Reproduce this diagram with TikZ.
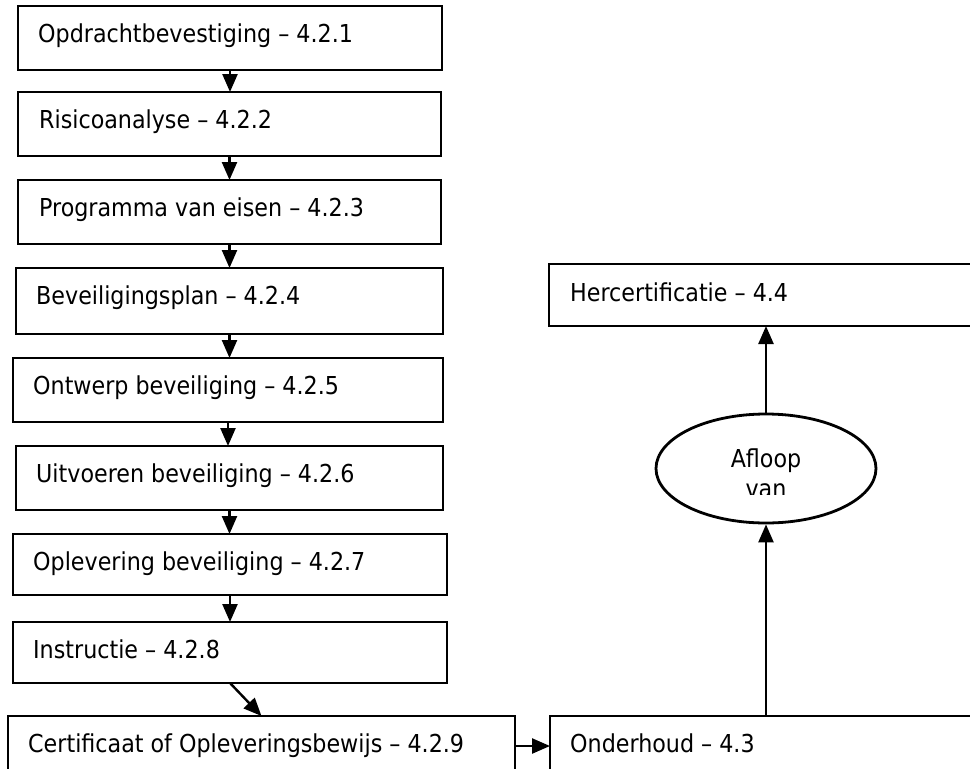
\documentclass[tikz,border=0pt]{standalone}
\usepackage{fontspec}
\setmainfont{DejaVu Sans Condensed}
\usetikzlibrary{arrows.meta,shapes.geometric}
\begin{document}
\begin{tikzpicture}[x=1pt,y=-1pt,
  box/.style={draw=black, line width=2pt, rectangle, anchor=north west, inner sep=0pt, outer sep=0pt},
  lbl/.style={anchor=base west, inner sep=0pt, font=\fontsize{24.7}{30}\selectfont},
  ctext/.style={anchor=base, inner sep=0pt, font=\fontsize{24.7}{30}\selectfont},
  arr/.style={line width=2.4pt, -{Triangle[width=15pt,length=18pt]}},
]
\clip (0,0) rectangle (970,769);
\fill[white] (0,0) rectangle (970,769);

% left column boxes
\node[box, minimum width=424pt, minimum height=64pt] (b1) at (18,6) {};
\node[box, minimum width=423pt, minimum height=64pt] (b2) at (18,92) {};
\node[box, minimum width=423pt, minimum height=64pt] (b3) at (18,180) {};
\node[box, minimum width=427pt, minimum height=66pt] (b4) at (16,268) {};
\node[box, minimum width=430pt, minimum height=64pt] (b5) at (13,358) {};
\node[box, minimum width=427pt, minimum height=64pt] (b6) at (16,446) {};
\node[box, minimum width=434pt, minimum height=61pt] (b7) at (13,534) {};
\node[box, minimum width=434pt, minimum height=61pt] (b8) at (13,622) {};
\node[box, minimum width=507pt, minimum height=60pt] (b9) at (8,716) {};

% right column
\node[box, minimum width=432pt, minimum height=60pt] (ond) at (550,716) {};
\node[box, minimum width=434pt, minimum height=62pt] (herc) at (549,264) {};
\node[draw=black, line width=2.8pt, ellipse, minimum width=220pt, minimum height=109pt, inner sep=0pt] (ell) at (766,468.5) {};

% texts
\node[lbl] (t1) at (38,42) {Opdrachtbevestiging – 4.2.1};
\node[lbl] (t2) at (39,128) {Risicoanalyse – 4.2.2};
\node[lbl] (t3) at (39,216) {Programma van eisen – 4.2.3};
\node[lbl] (t4) at (36,304) {Beveiligingsplan – 4.2.4};
\node[lbl] (t5) at (33,394) {Ontwerp beveiliging – 4.2.5};
\node[lbl] (t6) at (36,482) {Uitvoeren beveiliging – 4.2.6};
\node[lbl] (t7) at (33,570) {Oplevering beveiliging – 4.2.7};
\node[lbl] (t8) at (33,658.5) {Instructie – 4.2.8};
\node[lbl] (t9) at (28,752) {Certificaat of Opleveringsbewijs – 4.2.9};
\node[lbl] (tond) at (570,752) {Onderhoud – 4.3};
\node[lbl] (therc) at (570,301.5) {Hercertificatie – 4.4};
\node[ctext] (tafl) at (766,467) {Afloop};
\begin{scope}
  \clip (650,470) rectangle (880,494.5);
  \node[ctext] (tvan) at (766,497.5) {van};
\end{scope}

% connectors
\draw[arr] (b1.south) -- (b1.south |- b2.north);
\draw[arr] (b2.south) -- (b2.south |- b3.north);
\draw[arr] (b3.south) -- (b3.south |- b4.north);
\draw[arr] (b4.south) -- (b4.south |- b5.north);
\draw[arr] (b5.south) -- (b5.south |- b6.north);
\draw[arr] (b6.south) -- (b6.south |- b7.north);
\draw[arr] (b7.south) -- (b7.south |- b8.north);
\draw[arr] (b8.south) -- (b9.north);
\draw[arr] (b9.east) -- (ond.west);
\draw[arr] (ond.north) -- (ell.south);
\draw[arr] (ell.north) -- (herc.south);
\end{tikzpicture}
\end{document}
